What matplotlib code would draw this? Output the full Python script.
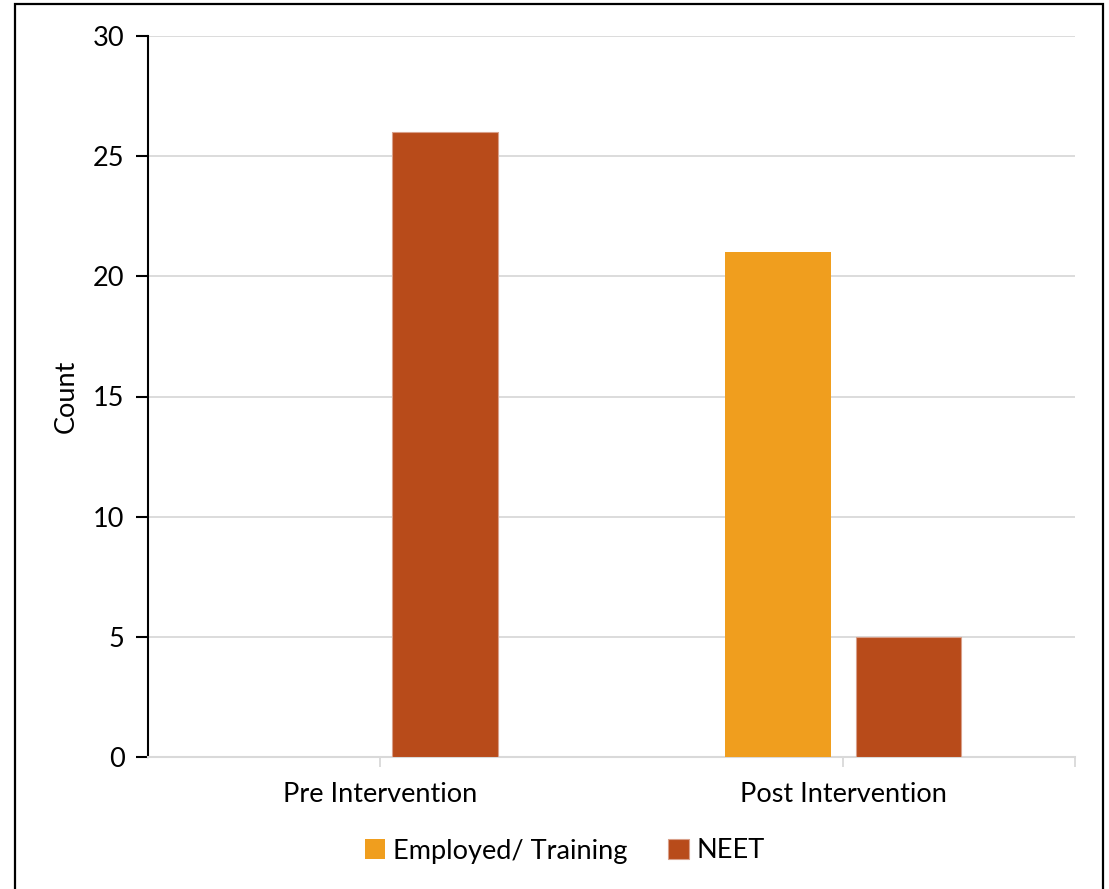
import numpy as np
import matplotlib.pyplot as plt
from matplotlib.patches import Rectangle

# data
categories = ["Pre Intervention", "Post Intervention"]
employed = [0, 21]
neet = [26, 5]
series_names = ["Employed/ Training", "NEET"]

ORANGE = "#F09E1E"
BROWN = "#B84B1A"

plt.rcParams["font.family"] = ["Lato", "DejaVu Sans"]

fig = plt.figure(figsize=(11.09, 8.89), dpi=100)
ax = fig.add_axes([148 / 1109, 1 - 757 / 889, (1075 - 148) / 1109, (757 - 36) / 889])

x = np.arange(len(categories))
w = 0.227
off = 0.141
ax.bar(x - off, employed, w, color=ORANGE, label=series_names[0], zorder=3)
ax.bar(x + off, neet, w, color=BROWN, label=series_names[1], zorder=3,
       edgecolor="#D9A08A", linewidth=0.8)

ax.set_xlim(-0.5, 1.5)
ax.set_ylim(0, 30)
ax.set_yticks(range(0, 31, 5))
ax.yaxis.grid(True, color="#D9D9D9", linewidth=1.3, zorder=0)
ax.set_axisbelow(True)

ax.set_xticks(x)
ax.set_xticklabels(categories, fontsize=19.5)
ax.set_xticks([1.5], minor=True)
ax.tick_params(axis="x", which="both", direction="out", length=7, width=1.3,
               color="#D9D9D9", pad=11)
ax.tick_params(axis="y", direction="out", length=9, width=1.5, color="black",
               labelsize=19.5, pad=8)

for s in ["top", "right"]:
    ax.spines[s].set_visible(False)
ax.spines["left"].set_color("black")
ax.spines["left"].set_linewidth(1.5)
ax.spines["bottom"].set_color("#D9D9D9")
ax.spines["bottom"].set_linewidth(1.5)

ax.set_ylabel("Count", fontsize=19.5, labelpad=10)

leg = ax.legend(loc="center", bbox_to_anchor=(565 / 1109, 1 - 851 / 889),
                bbox_transform=fig.transFigure, ncol=2, frameon=False,
                fontsize=19.5, handlelength=0.75, handleheight=0.75,
                handletextpad=0.3, columnspacing=1.5)

# outer frame
fig.patches.append(Rectangle((15 / 1109, -0.01), (1103 - 15) / 1109, 1 - 4 / 889 + 0.01,
                             transform=fig.transFigure, fill=False,
                             edgecolor="black", linewidth=1.6))

fig.savefig("out.png", dpi=100)
